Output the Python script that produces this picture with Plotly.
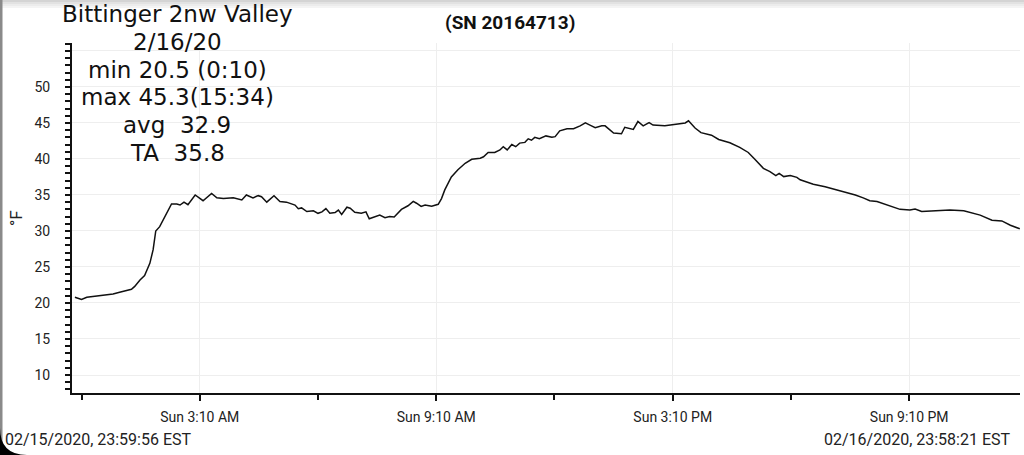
import plotly.graph_objects as go

# ---- data ----
times = [
    "2020-02-15 23:59:56", "2020-02-16 00:10", "00:18", "00:38", "00:58", "01:08", "01:26", "01:31",
    "01:39", "01:46", "01:54", "01:59", "02:03", "02:09", "02:17", "02:27", "02:35", "02:40",
    "02:46", "02:52", "03:03", "03:15", "03:28", "03:36", "03:46", "03:56", "04:01", "04:14",
    "04:21", "04:31", "04:39", "04:44", "04:52", "05:03", "05:12", "05:22", "05:35", "05:40",
    "05:45", "05:53", "06:03", "06:10", "06:16", "06:22", "06:28", "06:36", "06:41", "06:46",
    "06:54", "06:59", "07:06", "07:16", "07:23", "07:28", "07:35", "07:44", "07:52", "07:59",
    "08:06", "08:17", "08:27", "08:35", "08:40", "08:47", "08:53", "09:03", "09:13", "09:18",
    "09:23", "09:33", "09:43", "09:54", "10:04", "10:17", "10:22", "10:29", "10:39", "10:47",
    "10:52", "10:58", "11:05", "11:11", "11:17", "11:25", "11:30", "11:35", "11:40", "11:47",
    "11:57", "12:06", "12:11", "12:18", "12:29", "12:39", "12:49", "12:57", "13:04", "13:12",
    "13:22", "13:27", "13:40", "13:52", "13:57", "14:10", "14:17", "14:25", "14:34", "14:40",
    "14:58", "15:11", "15:29", "15:34", "15:44", "15:53", "16:09", "16:20", "16:37", "16:52",
    "17:05", "17:15", "17:28", "17:38", "17:47", "17:52", "17:59", "18:09", "18:19", "18:24",
    "18:44", "19:02", "19:20", "19:35", "19:48", "20:00", "20:10", "20:21", "20:36", "20:46",
    "20:56", "21:11", "21:19", "21:29", "21:47", "22:12", "22:33", "22:43", "22:58", "23:16",
    "23:31", "23:44", "23:58:21",
]
temps_f = [
    20.8, 20.5, 20.8, 21.0, 21.25, 21.5, 21.9, 22.3,
    23.2, 23.8, 25.5, 27.4, 30.0, 30.6, 32.0, 33.75, 33.75, 33.6,
    34.0, 33.65, 35.0, 34.2, 35.2, 34.6, 34.5, 34.5, 34.6, 34.3,
    35.0, 34.6, 34.9, 34.75, 34.0, 34.9, 34.1, 34.0, 33.6, 33.1,
    33.2, 32.7, 32.8, 32.45, 32.65, 33.1, 32.45, 32.55, 32.9, 32.3,
    33.3, 33.15, 32.6, 32.45, 32.65, 31.7, 31.9, 32.2, 31.85, 32.0,
    31.95, 33.0, 33.5, 34.1, 33.85, 33.4, 33.6, 33.45, 33.7, 34.5,
    35.7, 37.5, 38.5, 39.4, 39.95, 40.1, 40.3, 40.9, 40.9, 41.25,
    41.7, 41.25, 42.0, 41.7, 42.2, 42.3, 42.8, 42.6, 43.0, 42.8,
    43.2, 43.0, 43.1, 43.9, 44.2, 44.2, 44.6, 45.0, 44.7, 44.35,
    44.6, 44.6, 43.6, 43.5, 44.4, 44.1, 45.2, 44.6, 45.05, 44.7,
    44.6, 44.8, 45.0, 45.3, 44.3, 43.65, 43.3, 42.7, 42.25, 41.6,
    40.9, 39.95, 38.7, 38.25, 37.7, 38.0, 37.55, 37.7, 37.45, 37.1,
    36.5, 36.15, 35.7, 35.4, 35.0, 34.6, 34.2, 34.1, 33.65, 33.4,
    33.0, 32.9, 33.05, 32.7, 32.8, 32.9, 32.8, 32.55, 32.2, 31.5,
    31.4, 30.8, 30.3,
]
x_tick_vals = ["2020-02-16 03:10", "2020-02-16 09:10", "2020-02-16 15:10", "2020-02-16 21:10"]
x_tick_text = ["Sun 3:10 AM", "Sun 9:10 AM", "Sun 3:10 PM", "Sun 9:10 PM"]
y_tick_vals = [10, 15, 20, 25, 30, 35, 40, 45, 50, 55]
y_tick_text = ["10", "15", "20", "25", "30", "35", "40", "45", "50", ""]
info_lines = ["Bittinger 2nw Valley", "2/16/20", "min 20.5 (0:10)", "max 45.3(15:34)",
              "avg\u00a0 32.9", "TA\u00a0 35.8"]
serial_text = "(SN 20164713)"
start_label = "02/15/2020, 23:59:56 EST"
end_label = "02/16/2020, 23:58:21 EST"

# expand short times to full timestamps
full_times = [t if t.startswith("2020") else "2020-02-16 " + t for t in times]

W, H = 1024, 455
L, R, T, B = 72, 4, 43, 62
PW, PH = W - L - R, H - T - B


def px(xp):
    return (xp - L) / PW


def py(yp):
    return (H - B - yp) / PH


FONT = "Roboto, 'Noto Sans', sans-serif"
INFO_FONT = "'DejaVu Sans', sans-serif"

fig = go.Figure(go.Scatter(x=full_times, y=temps_f, mode="lines",
                           line=dict(color="#111111", width=1.5), hoverinfo="skip"))

fig.update_layout(
    width=W, height=H, margin=dict(l=L, r=R, t=T, b=B),
    paper_bgcolor="white", plot_bgcolor="white", showlegend=False,
    font=dict(family=FONT, color="#222222"),
    xaxis=dict(
        type="date", range=["2020-02-15 23:55:30", "2020-02-16 23:58:40"],
        tickmode="array", tickvals=x_tick_vals, ticktext=x_tick_text,
        ticks="outside", ticklen=6, tickwidth=2, tickcolor="#111111",
        showline=True, linecolor="#111111", linewidth=2,
        showgrid=True, gridcolor="#eeeeee", gridwidth=1, zeroline=False,
        tickfont=dict(size=14, color="#222222"), ticklabelstandoff=4,
        minor=dict(tickmode="linear", tick0="2020-02-16 00:10", dtick=3 * 3600000,
                   ticks="outside", ticklen=5, tickwidth=2, tickcolor="#111111", showgrid=False),
    ),
    yaxis=dict(
        range=[7.5, 56.1], tickmode="array", tickvals=y_tick_vals, ticktext=y_tick_text,
        ticks="outside", ticklen=5, tickwidth=2, tickcolor="#111111",
        showline=True, linecolor="#111111", linewidth=2,
        showgrid=True, gridcolor="#eeeeee", gridwidth=1, zeroline=False,
        tickfont=dict(size=14, color="#222222"), ticklabelstandoff=12,
        minor=dict(tickmode="linear", tick0=0, dtick=1, ticks="outside", ticklen=5,
                   tickwidth=2, tickcolor="#111111", showgrid=False),
    ),
)

ann = []
centers_y = [14, 41.8, 69.6, 97.4, 125.2, 153]
for txt, cy in zip(info_lines, centers_y):
    ann.append(dict(text=txt, xref="paper", yref="paper", x=px(177), y=py(cy),
                    xanchor="center", yanchor="middle", showarrow=False,
                    font=dict(size=23, color="#111111", family=INFO_FONT)))
ann.append(dict(text="<b>" + serial_text + "</b>", xref="paper", yref="paper", x=px(510), y=py(23),
                xanchor="center", yanchor="middle", showarrow=False,
                font=dict(size=19, color="#111111", family=FONT)))
ann.append(dict(text=start_label, xref="paper", yref="paper", x=px(3), y=py(439),
                xanchor="left", yanchor="middle", showarrow=False,
                font=dict(size=16, color="#222222", family=FONT)))
ann.append(dict(text=end_label, xref="paper", yref="paper", x=px(1013), y=py(439),
                xanchor="right", yanchor="middle", showarrow=False,
                font=dict(size=16, color="#222222", family=FONT)))
ann.append(dict(text="°F", xref="paper", yref="paper", x=px(16), y=py(218),
                xanchor="center", yanchor="middle", showarrow=False, textangle=-90,
                font=dict(size=17, color="#222222", family=FONT)))
fig.update_layout(annotations=ann)

# screenshot frame decorations: top shadow, left edge, bottom-left corner
shapes = []
for i, c in enumerate(["#d4d4d4", "#e2e2e2", "#ececec", "#f4f4f4"]):
    shapes.append(dict(type="rect", xref="paper", yref="paper", x0=px(0), x1=px(W),
                       y0=py(i * 2 + 2), y1=py(i * 2), fillcolor=c, line=dict(width=0), layer="below"))
shapes.append(dict(type="rect", xref="paper", yref="paper", x0=px(0), x1=px(2.5),
                   y0=py(H), y1=py(0), fillcolor="#8a8a8a", line=dict(width=0)))
shapes.append(dict(type="path", xref="paper", yref="paper",
                   path=f"M {px(0)},{py(428)} Q {px(0)},{py(455)} {px(27)},{py(455)} L {px(0)},{py(455)} Z",
                   fillcolor="#000000", line=dict(width=0)))
fig.update_layout(shapes=shapes)

fig.write_html("out.html", config={"displayModeBar": False},
               post_script="document.body.style.margin='0';document.body.style.overflow='hidden';")
